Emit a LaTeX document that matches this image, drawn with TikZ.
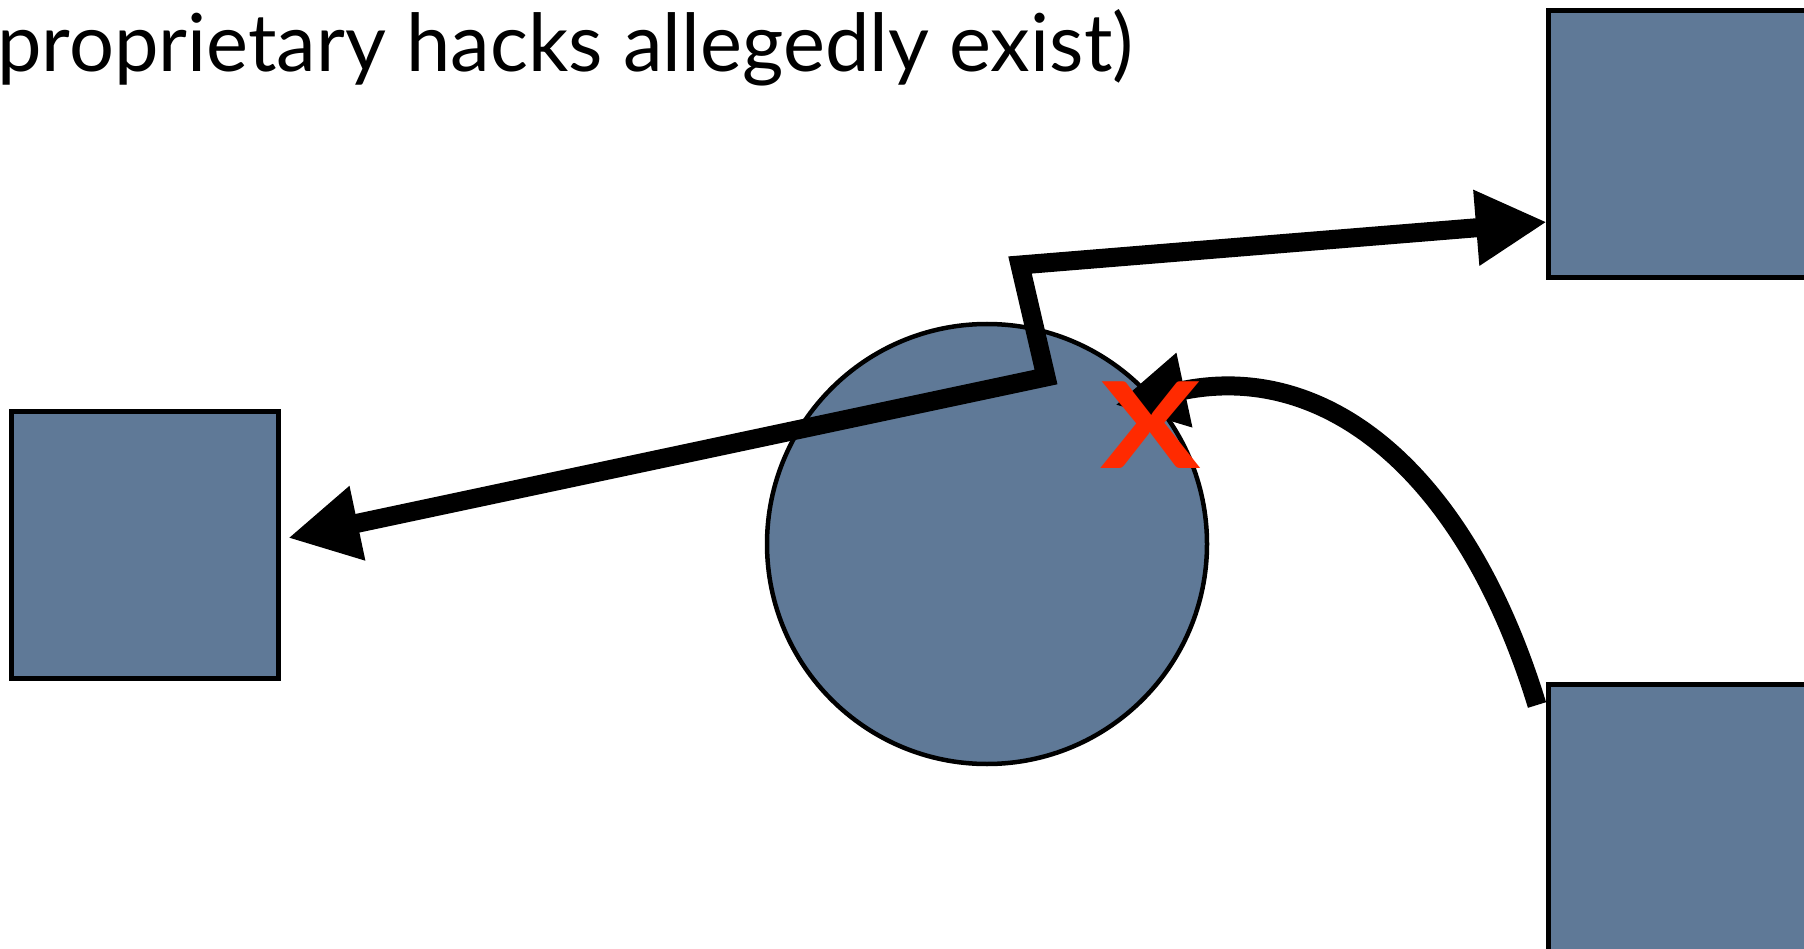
\documentclass[tikz,border=0pt]{standalone}
\usepackage{fontspec}
\setmainfont{Lato}
\usetikzlibrary{arrows.meta}
\definecolor{slate}{RGB}{95,121,151}
\definecolor{xred}{RGB}{255,42,0}
\begin{document}
\begin{tikzpicture}[x=1pt,y=-1pt,
  box/.style={draw=black, line width=5pt, fill=slate, minimum size=267pt, inner sep=0pt, shape=rectangle},
  hub/.style={circle, draw=black, line width=4.5pt, fill=slate, minimum size=440pt, inner sep=0pt},
  tipA/.tip={Triangle[length=71pt,width=71pt]},
  conn/.style={line width=19pt, line join=miter, draw=black},
]
\useasboundingbox (0,0) rectangle (1804,949);
\node[box] (L) at (144.5,545) {};
\node[box] (TR) at (1682,144) {};
\node[box] (BR) at (1682,817.7) {};
\node[hub] (C) at (987,544) {};

\coordinate (lt) at (288,538);
\coordinate (zb) at (1046,377);
\coordinate (zt) at (1020,265);
\coordinate (rt) at (1547,222);
\coordinate (cs) at (1537,705);
\coordinate (ce) at (1115,405);

\draw[conn, tipA-tipA] (lt) -- (zb) -- (zt) -- (rt);
\draw[conn, -tipA] (cs) .. controls (1465,470) and (1325,360) .. (ce);

\node[text=xred, inner sep=0pt, font=\fontsize{120}{120}\selectfont\bfseries] (x) at (1151,425) {\scalebox{1.25}[1]{X}};

\node[anchor=base west, inner sep=0pt, font=\fontsize{80}{82}\selectfont] (t) at (-3,71.7) {\scalebox{0.993}[1]{proprietary hacks allegedly exist)}};
\end{tikzpicture}
\end{document}
